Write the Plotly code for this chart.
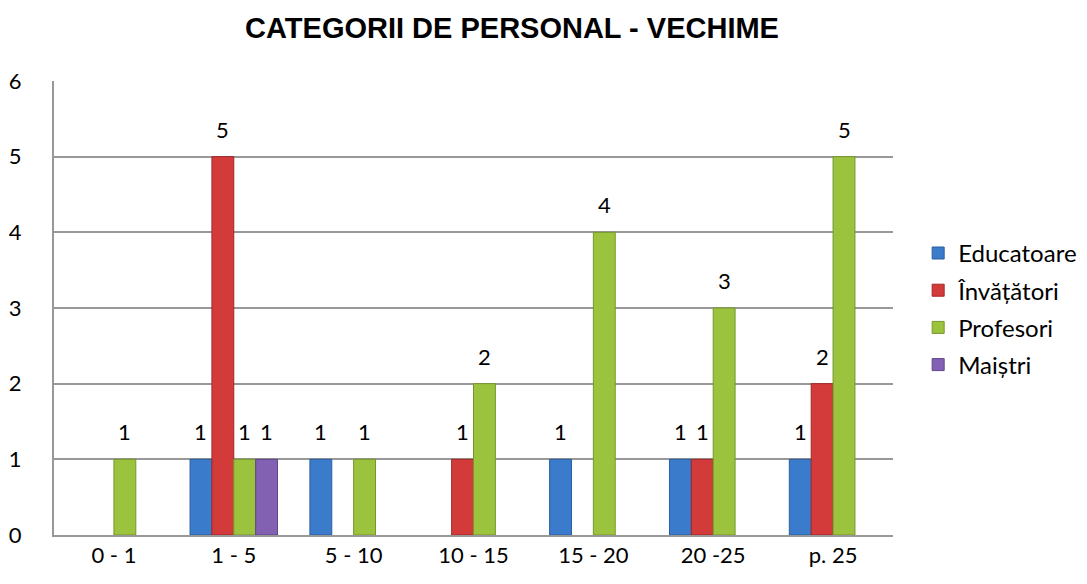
import plotly.graph_objects as go

categories = ["0 - 1", "1 - 5", "5 - 10", "10 - 15", "15 - 20", "20 -25", "p. 25"]
educatoare = [0, 1, 1, 0, 1, 1, 1]
invatatori = [0, 5, 0, 1, 0, 1, 2]
profesori = [1, 1, 1, 2, 4, 3, 5]
maistri = [0, 1, 0, 0, 0, 0, 0]

series = [
    ("Educatoare", educatoare, "#3a7bcb", "#2b5e9e"),
    ("Învățători", invatatori, "#d33b3b", "#a02828"),
    ("Profesori", profesori, "#9cc33d", "#76962b"),
    ("Maiștri", maistri, "#8261b3", "#5f448a"),
]

# page has an 8px body margin, so margins are shifted to compensate
W, H = 1087, 584
L, R, T, B = 46, 202, 73, 57
BARGAP = 0.27
bar_w = (W - L - R) / len(categories) * (1 - BARGAP) / len(series)

fig = go.Figure()
annotations = []
for i, (name, vals, color, edge) in enumerate(series):
    fig.add_trace(
        go.Bar(
            x=categories,
            y=[v if v else None for v in vals],
            name=name,
            legendgroup=name,
            marker=dict(color=color, line=dict(color=edge, width=1)),
        )
    )
    # value labels above the bars (zeros are not labelled)
    for cat, v in zip(categories, vals):
        if v:
            annotations.append(dict(
                x=cat, y=v, xref="x", yref="y",
                text=str(v), showarrow=False,
                xanchor="center", yanchor="bottom",
                xshift=(i - 1.5) * bar_w, yshift=12,
                font=dict(family="Lato", size=22, color="black"),
            ))

fig.update_layout(
    title=dict(
        text="<b>CATEGORII DE PERSONAL - VECHIME</b>",
        x=0.4637, xanchor="center", y=0.966, yanchor="middle",
        font=dict(family="Liberation Sans, Arial", size=29, color="black"),
    ),
    annotations=annotations,
    barmode="group",
    bargap=BARGAP,
    bargroupgap=0,
    width=W,
    height=H,
    margin=dict(l=L, r=R, t=T, b=B, autoexpand=False),
    paper_bgcolor="white",
    plot_bgcolor="white",
    font=dict(family="Lato", size=22, color="black"),
    showlegend=True,
    legend=dict(
        x=1.03, xanchor="left", y=0.498, yanchor="middle",
        font=dict(size=24, family="Lato"),
        traceorder="grouped",
        tracegroupgap=3,
        itemwidth=30,
    ),
    xaxis=dict(
        showgrid=False,
        showline=True,
        linecolor="#989898",
        linewidth=2,
        ticks="",
        tickfont=dict(size=22),
        automargin=False,
    ),
    yaxis=dict(
        range=[0, 6],
        dtick=1,
        showgrid=True,
        gridcolor="#989898",
        gridwidth=2,
        showline=True,
        linecolor="#989898",
        linewidth=2,
        ticks="",
        ticklabelstandoff=26,
        tickfont=dict(size=22),
        zeroline=False,
        automargin=False,
    ),
)

fig.write_html("out.html")
